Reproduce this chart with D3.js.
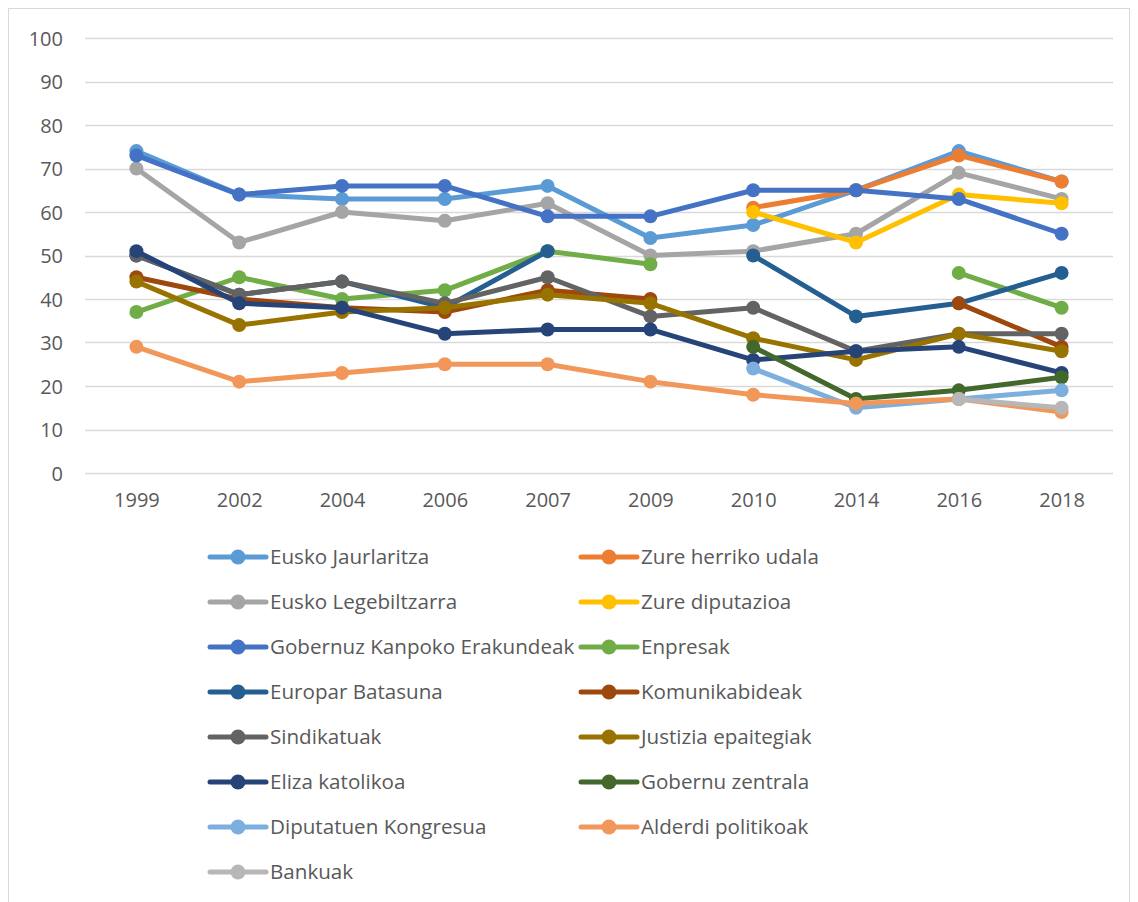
<!DOCTYPE html>
<html>
<head>
<meta charset="utf-8">
<script src="https://cdn.jsdelivr.net/npm/d3@7"></script>
<style>
  html, body { margin: 0; padding: 0; background: #fff; }
  svg text { font-family: "Open Sans", Lato, sans-serif; fill: #595959; }
</style>
</head>
<body>
<svg id="chart" width="1138" height="902"></svg>
<script>
const years = ["1999","2002","2004","2006","2007","2009","2010","2014","2016","2018"];
const yTicks = [0,10,20,30,40,50,60,70,80,90,100];

const seriesNames = [
  "Eusko Jaurlaritza","Zure herriko udala","Eusko Legebiltzarra","Zure diputazioa",
  "Gobernuz Kanpoko Erakundeak","Enpresak","Europar Batasuna","Komunikabideak",
  "Sindikatuak","Justizia epaitegiak","Eliza katolikoa","Gobernu zentrala",
  "Diputatuen Kongresua","Alderdi politikoak","Bankuak"
];
const seriesColors = [
  "#5B9BD5","#ED7D31","#A5A5A5","#FFC000","#4472C4","#70AD47","#255E91","#9E480E",
  "#636363","#997300","#264478","#43682B","#7CAFDD","#F1975A","#B7B7B7"
];

const euskoJaurlaritza   = [74,64,63,63,66,54,57,65,74,67];
const zureHerrikoUdala   = [null,null,null,null,null,null,61,65,73,67];
const euskoLegebiltzarra = [70,53,60,58,62,50,51,55,69,63];
const zureDiputazioa     = [null,null,null,null,null,null,60,53,64,62];
const gobernuzKanpoko    = [73,64,66,66,59,59,65,65,63,55];
const enpresak           = [37,45,40,42,51,48,null,null,46,38];
const europarBatasuna    = [50,41,44,38,51,null,50,36,39,46];
const komunikabideak     = [45,40,38,37,42,40,null,null,39,29];
const sindikatuak        = [50,41,44,39,45,36,38,28,32,32];
const justiziaEpaitegiak = [44,34,37,38,41,39,31,26,32,28];
const elizaKatolikoa     = [51,39,38,32,33,33,26,28,29,23];
const gobernuZentrala    = [null,null,null,null,null,null,29,17,19,22];
const diputatuenKongresua= [null,null,null,null,null,null,24,15,17,19];
const alderdiPolitikoak  = [29,21,23,25,25,21,18,16,17,14];
const bankuak            = [null,null,null,null,null,null,null,null,17,15];

const seriesValues = [
  euskoJaurlaritza, zureHerrikoUdala, euskoLegebiltzarra, zureDiputazioa,
  gobernuzKanpoko, enpresak, europarBatasuna, komunikabideak, sindikatuak,
  justiziaEpaitegiak, elizaKatolikoa, gobernuZentrala, diputatuenKongresua,
  alderdiPolitikoak, bankuak
];

const svg = d3.select("#chart");
const FONT = "'Open Sans', Lato, sans-serif";
const FS_AXIS = 20;
const FS_LEGEND = 20.6;

// outer border
svg.append("rect")
  .attr("x", 8.5).attr("y", 8.5)
  .attr("width", 1121).attr("height", 910)
  .attr("fill", "none").attr("stroke", "#D9D9D9").attr("stroke-width", 1);

const plotLeft = 85, plotRight = 1113, plotTop = 38, plotBottom = 473;

const x = d3.scalePoint().domain(years).range([plotLeft, plotRight]).padding(0.5);
const y = d3.scaleLinear().domain([0, 100]).range([plotBottom, plotTop]);

// gridlines
svg.append("g")
  .selectAll("line")
  .data(yTicks)
  .join("line")
  .attr("x1", plotLeft).attr("x2", plotRight)
  .attr("y1", d => Math.round(y(d)) + 0.5).attr("y2", d => Math.round(y(d)) + 0.5)
  .attr("stroke", "#D9D9D9").attr("stroke-width", 1.5);

// y axis labels
const yAxis = d3.axisLeft(y).tickValues(yTicks).tickSize(0).tickPadding(0);
const gy = svg.append("g").attr("transform", `translate(63,0)`).call(yAxis);
gy.select(".domain").remove();
gy.selectAll("text").attr("font-size", FS_AXIS).attr("dy", "0.35em")
  .style("font-family", FONT).attr("fill", "#595959");

// x axis labels
const xAxis = d3.axisBottom(x).tickSize(0).tickPadding(0);
const gx = svg.append("g").attr("transform", `translate(0,${plotBottom + 20})`).call(xAxis);
gx.select(".domain").remove();
gx.selectAll("text").attr("font-size", FS_AXIS).attr("dy", "0.71em")
  .style("font-family", FONT).attr("fill", "#595959");

// series
const line = d3.line()
  .defined(d => d.v !== null)
  .x(d => x(d.year))
  .y(d => y(d.v));

seriesValues.forEach((vals, i) => {
  const pts = vals.map((v, j) => ({ year: years[j], v }));
  const g = svg.append("g");
  g.append("path")
    .datum(pts)
    .attr("d", line)
    .attr("fill", "none")
    .attr("stroke", seriesColors[i])
    .attr("stroke-width", 5)
    .attr("stroke-linejoin", "round")
    .attr("stroke-linecap", "round");
  g.selectAll("circle")
    .data(pts.filter(d => d.v !== null))
    .join("circle")
    .attr("cx", d => x(d.year))
    .attr("cy", d => y(d.v))
    .attr("r", 7)
    .attr("fill", seriesColors[i]);
});

// legend
const legend = svg.append("g");
const colX = [210, 581];
const rowY0 = 557, rowStep = 45;
seriesNames.forEach((name, i) => {
  const col = i % 2, row = Math.floor(i / 2);
  const lx = colX[col], ly = rowY0 + row * rowStep;
  const g = legend.append("g").attr("transform", `translate(${lx},${ly})`);
  g.append("line").attr("x1", 0).attr("x2", 56).attr("y1", 0).attr("y2", 0)
    .attr("stroke", seriesColors[i]).attr("stroke-width", 5).attr("stroke-linecap", "round");
  g.append("circle").attr("cx", 28).attr("cy", 0).attr("r", 7.5).attr("fill", seriesColors[i]);
  g.append("text").attr("x", 60).attr("y", 0).attr("dy", "0.35em")
    .attr("font-size", FS_LEGEND).style("font-family", FONT).text(name);
});
</script>
</body>
</html>
